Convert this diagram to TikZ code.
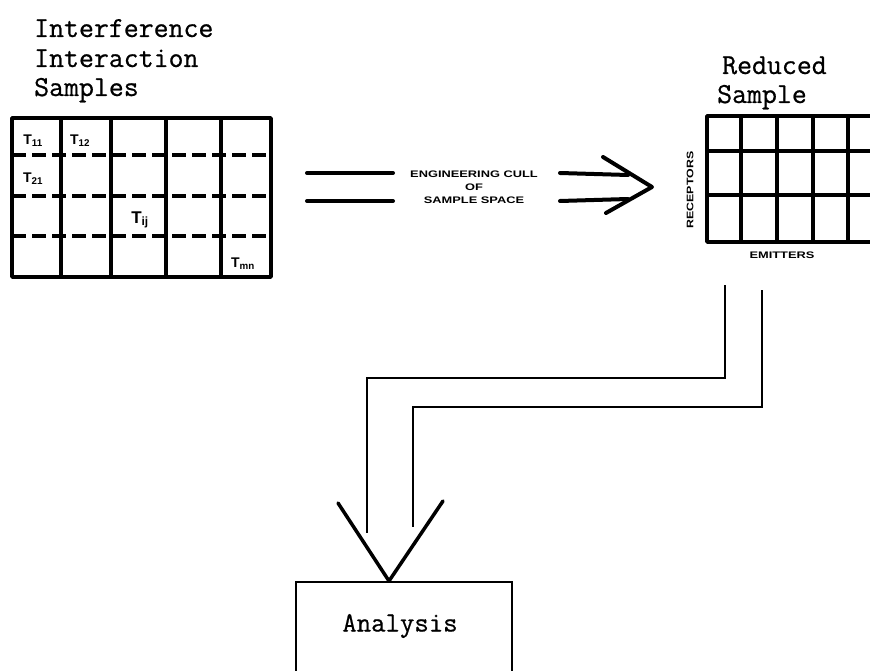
\documentclass[tikz,border=0pt]{standalone}
\usepackage{fontspec}
\usepackage{graphicx}
\setmainfont{Latin Modern Mono}[FakeBold=0.7]
\setsansfont{Liberation Sans}
\tikzset{
  title/.style={font=\fontsize{29}{31}\selectfont\rmfamily, anchor=base west, inner sep=0pt},
  gridline/.style={line width=3.6pt, line cap=round, line join=round},
  dashline/.style={line width=3.6pt, dash pattern=on 14pt off 6pt},
  tlabel/.style={font=\fontsize{14}{14}\selectfont\sffamily\bfseries, inner sep=0pt},
  tiny/.style={font=\fontsize{9.5}{9.5}\selectfont\sffamily\bfseries, inner sep=0pt},
  thick arrow/.style={line width=4pt, line cap=round, line join=round},
  pipe/.style={line width=1.6pt, line join=miter},
}
\begin{document}
\begin{tikzpicture}[x=1pt, y=-1pt]
\useasboundingbox (0,0) rectangle (870,671);
\clip (0,0) rectangle (870,671);

% titles
\node[title] (t1) at (34,37) {Interference};
\node[title] (t2) at (34,67) {Interaction};
\node[title] (t3) at (34,96) {Samples};
\node[title] (r1) at (722,74) {Reduced};
\node[title] (r2) at (717,103) {Sample};

% left grid
\node[draw, gridline, minimum width=259pt, minimum height=159pt, inner sep=0pt] (lg) at (141.5,197.5) {};
\foreach \xx in {61,111,166,221} \draw[gridline] (\xx,118) -- (\xx,277);
\foreach \yy in {155,196,236} \draw[dashline] (12,\yy) -- (271,\yy);
\node[tlabel] (a11) at (33,141) {T\textsubscript{11}};
\node[tlabel] (a12) at (80,141) {T\textsubscript{12}};
\node[tlabel] (a21) at (33,179) {T\textsubscript{21}};
\node[tlabel] (aij) at (140,220) {\fontsize{17}{17}\selectfont T\textsubscript{ij}};
\node[tlabel] (amn) at (243,264) {T\textsubscript{mn}};

% right grid
\coordinate (rgtl) at (707,116);
\draw[gridline] (875,116) -- (707,116) -- (707,242) -- (875,242);
\foreach \xx in {741,777,813,848} \draw[gridline] (\xx,116) -- (\xx,242);
\foreach \yy in {151,195} \draw[gridline] (707,\yy) -- (875,\yy);
\node[tiny, rotate=90] (rec) at (690,190) {\scalebox{1.3}[1]{RECEPTORS}};
\node[tiny] (emi) at (782,255) {\scalebox{1.35}[1]{EMITTERS}};

% double arrow with label
\draw[thick arrow] (307,173) -- (393,173);
\draw[thick arrow] (307,201) -- (393,201);
\node[tiny] (c1) at (474,174) {\scalebox{1.35}[1]{ENGINEERING CULL}};
\node[tiny] (c2) at (474,187) {\scalebox{1.35}[1]{OF}};
\node[tiny] (c3) at (474,200) {\scalebox{1.35}[1]{SAMPLE SPACE}};
\draw[thick arrow] (560,173) -- (628,175);
\draw[thick arrow] (560,201) -- (628,199);
\coordinate (tip) at (652,187);
\draw[thick arrow] (603,157) -- (tip) -- (606,213);

% connectors to analysis
\coordinate (sa) at (725,285);
\coordinate (sb) at (762,290);
\coordinate (ea) at (367,533);
\coordinate (eb) at (413,527);
\draw[pipe] (sa) |- (367,378) -- (ea);
\draw[pipe] (sb) |- (413,407) -- (eb);

% analysis box
\node[draw, line width=2pt, minimum width=216pt, minimum height=120pt, inner sep=0pt, anchor=north] (an) at (404,581) {};
\node[font=\fontsize{28}{28}\selectfont\rmfamily, inner sep=0pt] (antext) at (400,626) {Analysis};
\draw[line width=3.5pt, line cap=round, line join=round] (338,503) -- (an.north -| 389,0) -- (443,501);
\end{tikzpicture}
\end{document}
